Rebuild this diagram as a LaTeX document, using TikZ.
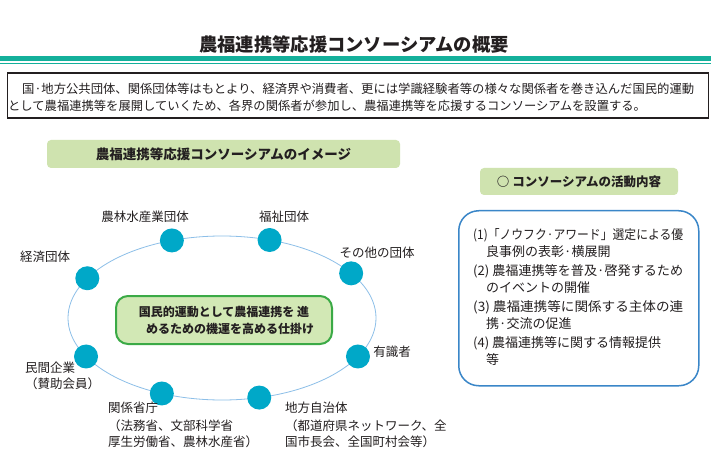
\documentclass[tikz,border=0pt]{standalone}
\usepackage{graphicx}
\usepackage{fontspec}
\setmainfont{Noto Sans CJK JP}
\usetikzlibrary{shapes.geometric}
\definecolor{tealline}{HTML}{14B09B}
\definecolor{labelgreen}{HTML}{CFE3AF}
\definecolor{corefill}{HTML}{D2E8B5}
\definecolor{coreline}{HTML}{3BAA46}
\definecolor{dotblue}{HTML}{00A8C8}
\definecolor{ringblue}{HTML}{8DBFE8}
\definecolor{boxblue}{HTML}{3A86C8}
\definecolor{ink}{HTML}{231F20}
\newcommand\fitwidth[2]{\resizebox{#1}{\height}{#2}}
\tikzset{
  lbl/.style={font=\fontsize{12.5}{15}\selectfont, text=ink, inner sep=0pt},
  lbll/.style={lbl, anchor=west},
  dot/.style={circle, fill=dotblue, minimum size=24pt, inner sep=0pt},
  greenlabel/.style={fill=labelgreen, rounded corners=4pt, inner sep=0pt, text=ink},
  itemline/.style={font=\fontsize{13}{16}\selectfont, text=ink, anchor=west, inner sep=0pt},
  introline/.style={font=\fontsize{12.3}{14}\selectfont, text=ink, anchor=west, inner sep=0pt}
}
\begin{document}
\begin{tikzpicture}[x=1pt,y=-1pt]
\useasboundingbox (0,0) rectangle (711,454);
\fill[white] (0,0) rectangle (711,454);
% title
\node[font=\bfseries\fontsize{18.3}{20}\selectfont, text=ink, inner sep=0pt] (title) at (354,45) {農福連携等応援コンソーシアムの概要};
\fill[tealline] (0,56.5) rectangle (711,61.5);
\fill[tealline] (0,62.8) rectangle (711,64);
% intro box
\node[draw=ink, line width=1.2pt, minimum width=701pt, minimum height=45pt, anchor=north west, inner sep=0pt] (intro) at (6.5,72.5) {};
\node[introline] (intro1) at (22,88.5) {\fitwidth{672pt}{国·地方公共団体、関係団体等はもとより、経済界や消費者、更には学識経験者等の様々な関係者を巻き込んだ国民的運動}};
\node[introline] (intro2) at (8,105.5) {として農福連携等を展開していくため、各界の関係者が参加し、農福連携等を応援するコンソーシアムを設置する。};
% left label
\node[greenlabel, minimum width=353pt, minimum height=28pt, font=\bfseries\fontsize{13.5}{15}\selectfont] (imglabel) at (223.5,154) {農福連携等応援コンソーシアムのイメージ};
% ring
\node[ellipse, draw=ringblue, line width=0.8pt, minimum width=308pt, minimum height=164pt, inner sep=0pt] (ring) at (222,318) {};
\node[dot] (d1) at ([shift={(222,318)}]152:154 and 82) {};
\node[dot] (d2) at ([shift={(222,318)}]113:154 and 82) {};
\node[dot] (d3) at ([shift={(222,318)}]76:154 and 82) {};
\node[dot] (d4) at ([shift={(222,318)}]28:154 and 82) {};
\node[dot] (d5) at ([shift={(222,318)}]-33:154 and 82) {};
\node[dot] (d6) at ([shift={(222,318)}]-72:154 and 82) {};
\node[dot] (d7) at ([shift={(222,318)}]-109:154 and 82) {};
\node[dot] (d8) at ([shift={(222,318)}]-151:154 and 82) {};
% core box
\node[fill=corefill, draw=coreline, line width=2pt, rounded corners=12pt, minimum width=216pt, minimum height=48pt, inner sep=0pt, align=center, text=ink, font=\bfseries\fontsize{12}{17}\selectfont] (core) at (224,320) {国民的運動として農福連携を 進\\\hspace*{12pt}めるための機運を高める仕掛け};
% labels
\node[lbl] (t1) at (45,257) {経済団体};
\node[lbl] (t2) at (145,217) {農林水産業団体};
\node[lbl] (t3) at (284,217) {福祉団体};
\node[lbl] (t4) at (377,253) {その他の団体};
\node[lbl] (t5) at (392,352) {有識者};
\node[lbll] (t6a) at (25,368) {民間企業};
\node[lbll] (t6b) at (25,384) {（賛助会員）};
\node[lbll] (t7a) at (108,408) {関係省庁};
\node[lbll] (t7b) at (108,426) {（法務省、文部科学省};
\node[lbll] (t7c) at (108,442) {厚生労働省、農林水産省）};
\node[lbll] (t8a) at (285,408) {地方自治体};
\node[lbll] (t8b) at (285,426) {（都道府県ネットワーク、全};
\node[lbll] (t8c) at (285,442) {国市長会、全国町村会等）};
% right side
\node[greenlabel, minimum width=198pt, minimum height=27pt, font=\bfseries\fontsize{12.5}{14}\selectfont] (actlabel) at (579,181.5) {○ コンソーシアムの活動内容};
\node[draw=boxblue, line width=1.5pt, rounded corners=20pt, minimum width=240pt, minimum height=175pt, anchor=north west, inner sep=0pt] (act) at (458,210) {};
\node[itemline] (a1) at (473,235) {\fitwidth{210pt}{(1)「ノウフク·アワード」選定による優}};
\node[itemline] (a1b) at (486,252) {良事例の表彰·横展開};
\node[itemline] (a2) at (473,271) {\fitwidth{210pt}{(2) 農福連携等を普及·啓発するため}};
\node[itemline] (a2b) at (486,288) {のイベントの開催};
\node[itemline] (a3) at (473,307) {\fitwidth{210pt}{(3) 農福連携等に関係する主体の連}};
\node[itemline] (a3b) at (486,324) {携·交流の促進};
\node[itemline] (a4) at (473,343) {(4) 農福連携等に関する情報提供};
\node[itemline] (a4b) at (486,360) {等};
\end{tikzpicture}
\end{document}
